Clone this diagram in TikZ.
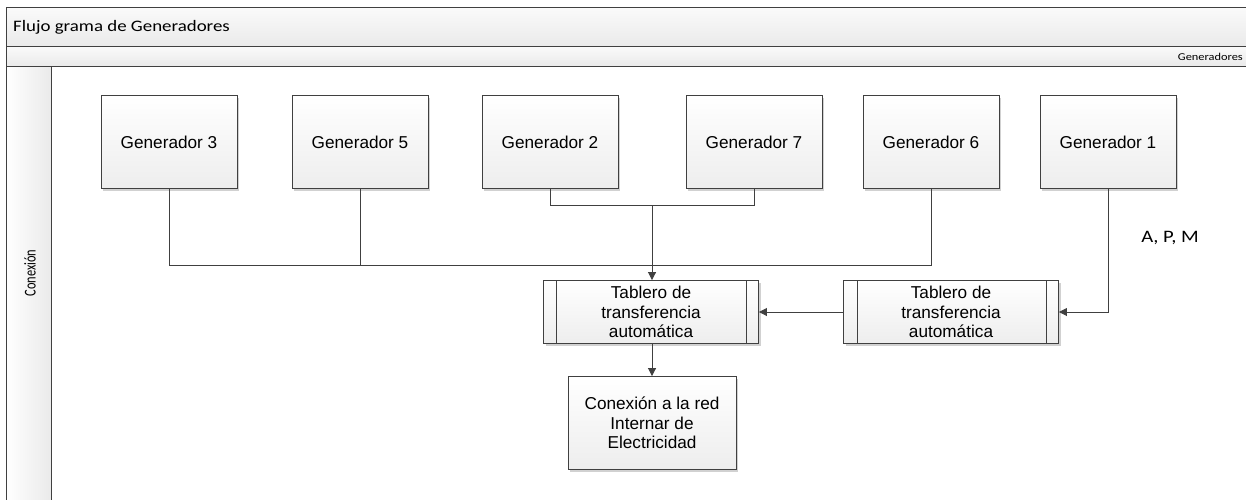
\documentclass[tikz,border=0pt]{standalone}
\usepackage{fontspec}
\setmainfont{Liberation Sans}
\newfontfamily\hdrfont[FakeStretch=1.18]{Carlito}
\newfontfamily\lanefont{Carlito}
\usetikzlibrary{arrows.meta,shadows}
\definecolor{edge}{HTML}{404040}
\definecolor{barA}{HTML}{FAFAFA}
\definecolor{barB}{HTML}{EAEAEA}
\tikzset{
  x=1pt, y=-1pt,
  box/.style={draw=edge, line width=0.9pt, top color=white, bottom color=gray!14,
    drop shadow={shadow xshift=2pt, shadow yshift=-2pt, fill=black, opacity=0.18},
    minimum width=136pt, minimum height=93pt, inner sep=0pt, align=center,
    font=\fontsize{17.2}{19.5}\selectfont},
  subbox/.style={box, minimum width=215pt, minimum height=63pt},
  link/.style={draw=edge, line width=0.9pt},
  arr/.style={link, -{Triangle[length=8pt,width=8pt]}},
  frameline/.style={draw=edge, line width=0.9pt},
}
\begin{document}
\begin{tikzpicture}
\useasboundingbox (0,0) rectangle (1246,499);
% swimlane frame
\shade[top color=barA, bottom color=barB] (6,7) rectangle (1250,46);
\shade[top color=barA, bottom color=barB] (6,46) rectangle (1250,66);
\shade[left color=white, right color=barB] (6,66) rectangle (51,503);
\draw[frameline] (1250,7) -- (6,7) -- (6,503);
\draw[frameline] (6,46) -- (1250,46);
\draw[frameline] (6,66) -- (1250,66);
\draw[frameline] (51,66) -- (51,503);
\node[anchor=west, inner sep=0pt, font=\hdrfont\fontsize{16}{19}\selectfont] (title) at (13,27) {Flujo grama de Generadores};
\node[anchor=east, inner sep=0pt, font=\hdrfont\fontsize{10.5}{13}\selectfont] (pool) at (1243,57) {Generadores};
\node[rotate=90, inner sep=0pt, font=\lanefont\fontsize{16.5}{19}\selectfont] (lane) at (30,273) {\scalebox{0.75}[1]{Conexión}};

% generators
\node[box] (g3) at (169,142) {Generador 3};
\node[box] (g5) at (360,142) {Generador 5};
\node[box] (g2) at (550,142) {Generador 2};
\node[box] (g7) at (754,142) {Generador 7};
\node[box] (g6) at (931,142) {Generador 6};
\node[box] (g1) at (1108,142) {Generador 1};

% transfer panels (predefined-process style)
\node[subbox] (t1) at (651,312) {Tablero de\\transferencia\\automática};
\node[subbox] (t2) at (951,312) {Tablero de\\transferencia\\automática};
\draw[frameline] ([xshift=13pt]t1.north west) -- ([xshift=13pt]t1.south west);
\draw[frameline] ([xshift=-13pt]t1.north east) -- ([xshift=-13pt]t1.south east);
\draw[frameline] ([xshift=14pt]t2.north west) -- ([xshift=14pt]t2.south west);
\draw[frameline] ([xshift=-13pt]t2.north east) -- ([xshift=-13pt]t2.south east);

% grid connection
\node[box, minimum width=168pt, minimum height=93pt] (red) at (652,423) {Conexión a la red\\Internar de\\Electricidad};

% bus lines
\coordinate (busA) at (652,265);
\coordinate (busB) at (652,205);
\draw[link] (g3.south) -- (g3.south |- busA) -- (g6.south |- busA) -- (g6.south);
\draw[link] (g5.south) -- (g5.south |- busA);
\draw[link] (g2.south) -- (g2.south |- busB) -- (g7.south |- busB) -- (g7.south);
\draw[arr] (busB) -- (t1.north -| busB);
\draw[arr] (t1.south -| busB) -- (red.north);
\draw[arr] (t2.west) -- (t1.east);
\draw[arr] (g1.south) |- (t2.east);
\node[font=\hdrfont\fontsize{17.5}{20}\selectfont, inner sep=0pt] (apm) at (1170,238) {A, P, M};
\end{tikzpicture}
\end{document}
